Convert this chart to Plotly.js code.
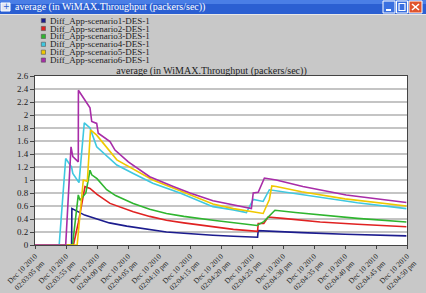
<!DOCTYPE html>
<html>
<head>
<meta charset="utf-8">
<script src="https://cdn.plot.ly/plotly-3.0.1.min.js"></script>
<style>html,body{margin:0;padding:0;background:#c8c8c8;}#chart{width:426px;height:293px;}</style>
</head>
<body>
<div id="chart"></div>
<script>
// ---- data (seconds from start of the run) ----
var seriesNames = ["Diff_App-scenario1-DES-1","Diff_App-scenario2-DES-1","Diff_App-scenario3-DES-1",
                   "Diff_App-scenario4-DES-1","Diff_App-scenario5-DES-1","Diff_App-scenario6-DES-1"];
var seriesColors = ["#1c1c8e","#e02222","#2fb52f","#3fc8e0","#f0c800","#a82ca8"];

var s1x = [0, 5.9, 5.95, 6.2, 7.0, 8, 10, 12, 14.8, 18, 21.2, 24, 26.6, 28.7, 32, 35.9, 36.0, 38, 43, 50, 55, 59.9];
var s1y = [0, 0, 0.56, 0.55, 0.51, 0.46, 0.40, 0.34, 0.29, 0.24, 0.20, 0.18, 0.16, 0.15, 0.135, 0.12, 0.22, 0.21, 0.19, 0.165, 0.15, 0.14];

var s2x = [0, 6.2, 7.0, 8.06, 8.87, 10, 12.1, 15.85, 18.5, 21.2, 24, 28.7, 32, 35.9, 36.0, 36.9, 37.6, 40, 46, 52, 59.9];
var s2y = [0, 0, 0.35, 0.90, 0.87, 0.78, 0.64, 0.51, 0.44, 0.38, 0.34, 0.28, 0.24, 0.21, 0.33, 0.33, 0.43, 0.41, 0.355, 0.32, 0.28];

var s3x = [0, 6.05, 6.98, 7.26, 8.2, 8.87, 9.15, 10, 11.56, 13, 15.85, 18.5, 21.2, 24, 28.7, 32, 35.8, 36.9, 38.7, 42, 46, 52, 59.9];
var s3y = [0, 0, 0.77, 0.69, 0.80, 1.15, 1.08, 1.02, 0.85, 0.76, 0.64, 0.55, 0.485, 0.44, 0.38, 0.34, 0.30, 0.36, 0.535, 0.50, 0.46, 0.41, 0.355];

var s4x = [0, 3.9, 4.95, 5.9, 6.1, 7.1, 7.95, 8.87, 9.95, 11, 13.2, 15.85, 19, 23.4, 28.7, 32, 34.1, 35.2, 36.0, 36.8, 37.8, 40, 46, 52, 59.9];
var s4y = [0, 0, 1.33, 1.20, 1.10, 0.96, 1.88, 1.80, 1.51, 1.42, 1.23, 1.10, 0.95, 0.80, 0.59, 0.54, 0.50, 0.70, 0.68, 0.67, 0.85, 0.82, 0.73, 0.65, 0.56];

var s5x = [0, 6.8, 7.79, 8.44, 8.95, 9.95, 13.2, 15.85, 19, 23, 28.7, 32, 36.8, 37.8, 38.2, 38.9, 43, 50, 59.9];
var s5y = [0, 0, 1.00, 0.98, 1.77, 1.69, 1.31, 1.17, 1.00, 0.85, 0.63, 0.56, 0.485, 0.70, 0.91, 0.90, 0.82, 0.71, 0.60];

var s6x = [0, 4.95, 5.81, 6.1, 6.98, 7.0, 8.87, 9.15, 9.95, 10.2, 12.1, 12.9, 15.05, 18.5, 22.3, 25, 28.7, 34.9, 35.2, 36.0, 37.0, 38.9, 43.2, 50.2, 59.9];
var s6y = [0, 0, 1.51, 1.36, 1.28, 2.38, 2.11, 1.90, 1.87, 1.72, 1.59, 1.46, 1.28, 1.05, 0.90, 0.80, 0.68, 0.56, 0.80, 0.81, 1.03, 1.00, 0.90, 0.77, 0.655];

var tickSeconds = [0,5,10,15,20,25,30,35,40,45,50,55,60];
var tickClock = ["02:03:05 pm","02:03:55 pm","02:04:00 pm","02:04:05 pm","02:04:10 pm","02:04:15 pm",
                 "02:04:20 pm","02:04:25 pm","02:04:30 pm","02:04:35 pm","02:04:40 pm","02:04:45 pm","02:04:50 pm"];
var tickDate = "Dec 10 2010";
var yTicks = [0,0.2,0.4,0.6,0.8,1,1.2,1.4,1.6,1.8,2,2.2,2.4,2.6];
var yTickText = ["0","0.2","0.4","0.6","0.8","1","1.2","1.4","1.6","1.8","2","2.2","2.4","2.6"];
var chartTitle = "average (in WiMAX.Throughput (packers/sec))";

// ---- build ----
var xs = [s1x,s2x,s3x,s4x,s5x,s6x];
var ys = [s1y,s2y,s3y,s4y,s5y,s6y];
var traces = [];
for (var i = 0; i < 6; i++) {
  traces.push({x: xs[i], y: ys[i], type: "scatter", mode: "lines", name: seriesNames[i],
               line: {color: seriesColors[i], width: 1.6}, showlegend: false, hoverinfo: "skip"});
}
var tickText = tickClock.map(function(c){ return tickDate + "<br>" + c; });

// pixel -> paper helpers (plot area: x 35..407, y 76..245)
function PX(p){ return (p - 35) / 372; }
function PY(p){ return (245 - p) / 169; }

var serif = "Liberation Serif, Times New Roman, serif";
var shapes = [
  {type:"rect", xref:"paper", yref:"paper", x0:PX(0), x1:PX(426), y0:PY(14), y1:PY(0), fillcolor:"#2b5fd2", line:{width:0}, layer:"below"},
  {type:"rect", xref:"paper", yref:"paper", x0:PX(0), x1:PX(426), y0:PY(4), y1:PY(0), fillcolor:"#4a7ee6", line:{width:0}, layer:"below"},
  {type:"rect", xref:"paper", yref:"paper", x0:PX(0), x1:PX(426), y0:PY(15), y1:PY(14), fillcolor:"#e8e8e8", line:{width:0}, layer:"below"},
  {type:"rect", xref:"paper", yref:"paper", x0:PX(1), x1:PX(10), y0:PY(11), y1:PY(3), fillcolor:"#dfe6f5", line:{color:"#ffffff", width:1}},
  {type:"rect", xref:"paper", yref:"paper", x0:PX(383), x1:PX(395), y0:PY(13), y1:PY(1), fillcolor:"#3a70e0", line:{color:"#ffffff", width:1}},
  {type:"rect", xref:"paper", yref:"paper", x0:PX(396.5), x1:PX(407.5), y0:PY(13), y1:PY(1), fillcolor:"#3a70e0", line:{color:"#ffffff", width:1}},
  {type:"rect", xref:"paper", yref:"paper", x0:PX(409), x1:PX(422), y0:PY(13), y1:PY(1), fillcolor:"#e0542e", line:{color:"#ffffff", width:1}},
  {type:"line", xref:"paper", yref:"paper", x0:PX(386), x1:PX(391), y0:PY(10), y1:PY(10), line:{color:"#ffffff", width:2}},
  {type:"rect", xref:"paper", yref:"paper", x0:PX(399), x1:PX(405), y0:PY(10.5), y1:PY(3.5), line:{color:"#ffffff", width:1.2}},
  {type:"line", xref:"paper", yref:"paper", x0:PX(412), x1:PX(419), y0:PY(10), y1:PY(4), line:{color:"#ffffff", width:1.6}},
  {type:"line", xref:"paper", yref:"paper", x0:PX(412), x1:PX(419), y0:PY(4), y1:PY(10), line:{color:"#ffffff", width:1.6}}
];
var annotations = [
  {xref:"paper", yref:"paper", x:PX(12.5), y:PY(7), xanchor:"left", yanchor:"middle", showarrow:false,
   text: chartTitle, font:{family:serif, size:10, color:"#ffffff"}},
  {xref:"paper", yref:"paper", x:PX(6), y:PY(7), xanchor:"center", yanchor:"middle", showarrow:false,
   text: "+", font:{family:"DejaVu Sans", size:8, color:"#2b5fd2"}}
];
var legendTop = 20.6, legendStep = 7.9;
for (var k = 0; k < 6; k++) {
  var cy = legendTop + k * legendStep;
  shapes.push({type:"rect", xref:"paper", yref:"paper", x0:PX(41.3), x1:PX(45.5), y0:PY(cy+2.1), y1:PY(cy-2.1),
               fillcolor: seriesColors[k], line:{color:"#555555", width:0.6}});
  annotations.push({xref:"paper", yref:"paper", x:PX(47.5), y:PY(cy), xanchor:"left", yanchor:"middle", showarrow:false,
                    text: seriesNames[k], font:{family:serif, size:9, color:"#222222"}});
}

var layout = {
  width: 426, height: 293,
  margin: {l:35, r:19, t:76, b:48, pad:0},
  paper_bgcolor: "#c8c8c8", plot_bgcolor: "#ffffff",
  title: {text: chartTitle, x: 211.5/426, xref:"container", xanchor:"center", y: 1 - 70/293, yref:"container", yanchor:"middle",
          font:{family:serif, size:10, color:"#222222"}},
  xaxis: {range:[0,60], tickmode:"array", tickvals: tickSeconds, ticktext: tickText, tickangle:-45,
          showgrid:false, zeroline:false, showline:true, mirror:true, linecolor:"#444444", linewidth:1,
          ticks:"outside", ticklen:3, tickcolor:"#444444", tickfont:{family:serif, size:7.5, color:"#222222"}},
  yaxis: {range:[0,2.6], tickmode:"array", tickvals: yTicks, ticktext: yTickText,
          showgrid:true, gridcolor:"#c4c4c4", gridwidth:1.6, zeroline:false, showline:true, mirror:true,
          linecolor:"#444444", linewidth:1, ticks:"outside", ticklen:4, tickcolor:"#444444",
          tickfont:{family:serif, size:9, color:"#222222"}},
  shapes: shapes, annotations: annotations, showlegend:false
};
Plotly.newPlot("chart", traces, layout, {displayModeBar:false, staticPlot:true});
</script>
</body>
</html>
